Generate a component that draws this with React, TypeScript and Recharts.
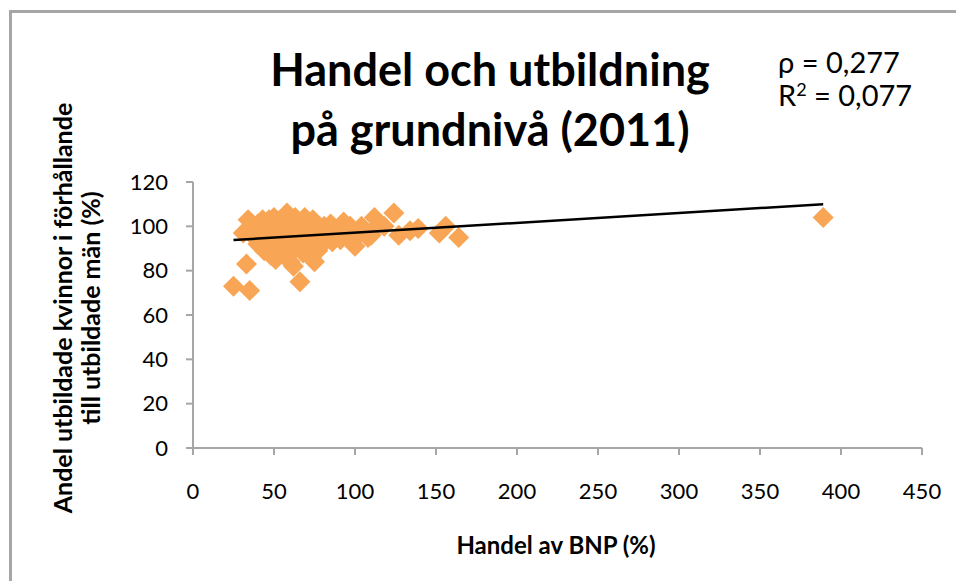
import { ScatterChart, Scatter, XAxis, YAxis } from 'recharts'

// Handel (% av BNP) vs andel utbildade kvinnor i förhållande till män (%)
const TRADE: number[] = [
  25, 35, 33, 66, 389, 164, 156, 152, 139, 134, 127, 124, 112, 110, 100,
  31, 34, 36, 38, 40, 40, 42, 43, 44, 45, 46, 47, 48, 49, 50, 50, 51, 52, 53, 54,
  55, 56, 57, 58, 59, 60, 60, 61, 62, 63, 64, 65, 66, 67, 68, 69, 70, 71, 72, 73,
  74, 75, 76, 77, 78, 80, 81, 83, 85, 86, 88, 90, 91, 93, 95, 97, 99, 101, 104, 106,
  108, 115, 118,
]
const EDUCATION: number[] = [
  73, 71, 83, 75, 104, 95, 100, 97, 99, 98, 96, 106, 104, 96, 91,
  97, 103, 99, 95, 101, 92, 97, 103, 89, 100, 94, 103, 87, 98, 104, 91, 85, 96, 101, 88,
  103, 93, 99, 106, 87, 102, 84, 96, 82, 104, 91, 99, 94, 102, 88, 104, 96, 91, 100, 86,
  103, 84, 95, 89, 98, 92, 100, 95, 101, 93, 97, 99, 94, 102, 96, 100, 94, 97, 100, 98,
  95, 101, 100,
]

const X_TICKS = [0, 50, 100, 150, 200, 250, 300, 350, 400, 450]
const Y_TICKS = [0, 20, 40, 60, 80, 100, 120]

// linjär trend (Excel)
const TREND_SLOPE = 0.0444
const TREND_INTERCEPT = 92.7

const TITLE = ['Handel och utbildning', 'på grundnivå (2011)']
const STATS = ['ρ = 0,277', '0,077']
const X_LABEL = 'Handel av BNP (%)'
const Y_LABEL = ['Andel utbildade kvinnor i förhållande', 'till utbildade män (%)']

const points = TRADE.map((x, i) => ({ x, y: EDUCATION[i] }))
const minX = Math.min(...TRADE)
const maxX = Math.max(...TRADE)
const trend = [minX, maxX].map(x => ({ x, y: TREND_INTERCEPT + TREND_SLOPE * x }))

const FONT = 'Lato, "Open Sans", sans-serif'
const AXIS = '#a6a6a6'
const ORANGE = '#f8a555'

const Diamond = (props: any) => {
  const { cx, cy } = props
  if (cx == null || cy == null) return <g />
  const r = 10.5
  return (
    <polygon
      points={`${cx},${cy - r} ${cx + r},${cy} ${cx},${cy + r} ${cx - r},${cy}`}
      fill={ORANGE}
    />
  )
}

export default function App() {
  return (
    <div style={{ position: 'absolute', left: 0, top: 0, width: 956, height: 581, background: '#fff', overflow: 'hidden', fontFamily: FONT }}>
      <div style={{ position: 'absolute', left: 9, top: 10, width: 1000, height: 700, borderTop: `3px solid ${AXIS}`, borderLeft: `3px solid ${AXIS}` }} />

      <ScatterChart width={956} height={581} margin={{ top: 182, right: 34, bottom: 0, left: 0 }}>
        <XAxis
          type="number"
          dataKey="x"
          domain={[0, 450]}
          ticks={X_TICKS}
          interval={0}
          height={133}
          tickSize={7}
          tickMargin={28}
          stroke={AXIS}
          strokeWidth={2}
          tick={{ fill: '#000', fontSize: 22, fontFamily: FONT }}
        />
        <YAxis
          type="number"
          dataKey="y"
          domain={[0, 120]}
          ticks={Y_TICKS}
          interval={0}
          width={193}
          tickSize={7}
          tickMargin={18}
          stroke={AXIS}
          strokeWidth={2}
          tick={{ fill: '#000', fontSize: 22, fontFamily: FONT }}
        />
        <Scatter data={points} shape={Diamond} isAnimationActive={false} />
        <Scatter
          data={trend}
          line={{ stroke: '#000', strokeWidth: 2.5 }}
          shape={() => <g />}
          isAnimationActive={false}
        />
      </ScatterChart>

      {TITLE.map((t, i) => (
        <div key={t} style={{ position: 'absolute', left: 240, width: 500, top: 42 + i * 60, textAlign: 'center', fontSize: 45, fontWeight: 700, whiteSpace: 'nowrap', lineHeight: '54px' }}>
          {t}
        </div>
      ))}

      <div style={{ position: 'absolute', left: 778, top: 44, fontSize: 29, lineHeight: '36px', whiteSpace: 'nowrap' }}>
        {STATS[0]}
      </div>
      <div style={{ position: 'absolute', left: 778, top: 77, fontSize: 29, lineHeight: '36px', whiteSpace: 'nowrap' }}>
        R<span style={{ fontSize: 18, verticalAlign: 'top', lineHeight: '24px' }}>2</span> = {STATS[1]}
      </div>

      <div style={{ position: 'absolute', left: 356, width: 400, top: 530, textAlign: 'center', fontSize: 24, fontWeight: 700, whiteSpace: 'nowrap' }}>
        {X_LABEL}
      </div>

      <div style={{ position: 'absolute', left: 76, top: 308, width: 0, height: 0 }}>
        <div style={{ position: 'absolute', left: -300, top: -28, width: 600, textAlign: 'center', transform: 'rotate(-90deg)', fontSize: 25, fontWeight: 700, lineHeight: '28px', whiteSpace: 'nowrap' }}>
          <div>{Y_LABEL[0]}</div>
          <div>{Y_LABEL[1]}</div>
        </div>
      </div>
    </div>
  )
}
